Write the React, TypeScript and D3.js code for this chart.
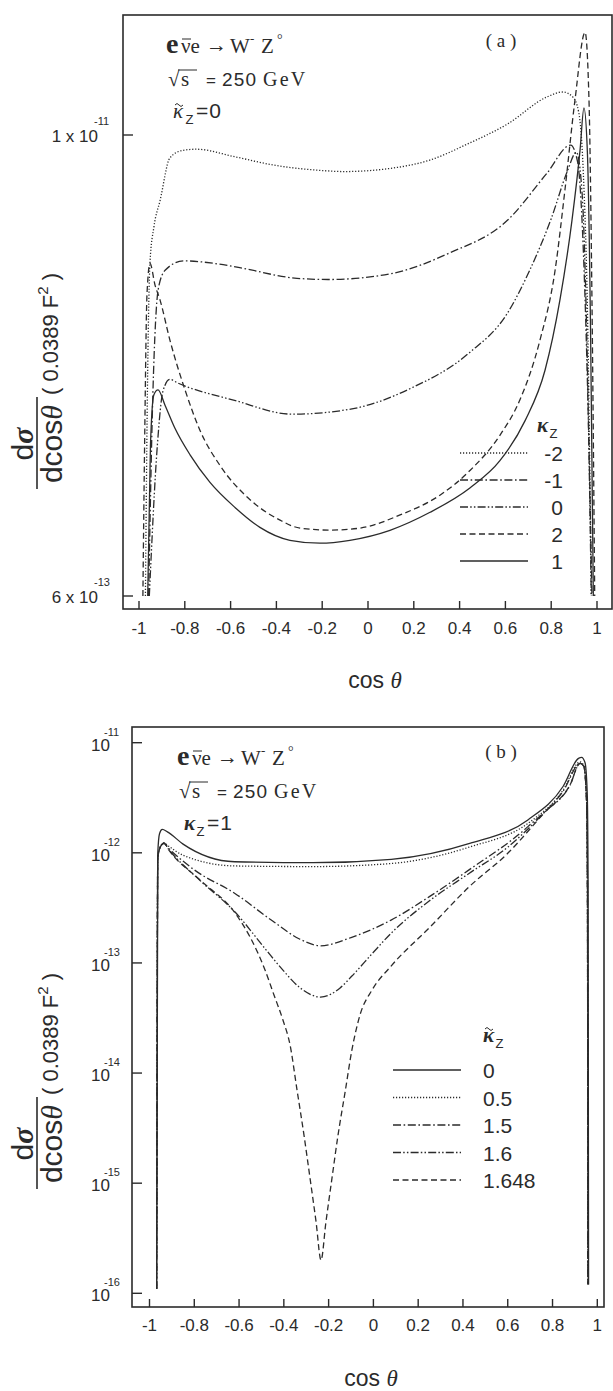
import React from "react";
import * as d3 from "d3";

type Pt = [number, number];

// ---- panel (a): kappa~_Z = 0, one curve per kappa_Z ----
const aKzMinus2: Pt[] = [
  [-0.972, 6.0e-13], [-0.962, 2.4e-12], [-0.952, 4.6e-12], [-0.935, 5.7e-12], [-0.908, 6.7e-12],
  [-0.865, 8.7e-12], [-0.81, 9.1e-12], [-0.75, 9.17e-12], [-0.583, 8.76e-12], [-0.41, 8.32e-12],
  [-0.2, 8.05e-12], [-0.105, 8.0e-12], [0.1, 8.16e-12], [0.27, 8.58e-12], [0.44, 9.5e-12],
  [0.61, 1.07e-11], [0.78, 1.26e-11], [0.85, 1.3e-11], [0.895, 1.26e-11], [0.92, 1.15e-11],
  [0.94, 8.0e-12], [0.96, 3.0e-12], [0.975, 6.0e-13],
];
const aKzMinus1: Pt[] = [
  [-0.958, 6.0e-13], [-0.94, 2.0e-12], [-0.916, 3.9e-12], [-0.886, 4.38e-12], [-0.806, 4.64e-12],
  [-0.675, 4.57e-12], [-0.56, 4.45e-12], [-0.31, 4.17e-12], [-0.17, 4.14e-12], [0.1, 4.29e-12],
  [0.35, 4.85e-12], [0.61, 5.95e-12], [0.78, 7.9e-12], [0.885, 9.4e-12], [0.915, 8.5e-12],
  [0.94, 5.0e-12], [0.96, 2.0e-12], [0.978, 6.0e-13],
];
const aKz0: Pt[] = [
  [-0.955, 6.0e-13], [-0.92, 1.5e-12], [-0.895, 2.1e-12], [-0.865, 2.25e-12], [-0.83, 2.2e-12],
  [-0.583, 1.98e-12], [-0.33, 1.82e-12], [-0.07, 1.88e-12], [0.186, 2.13e-12], [0.44, 2.64e-12],
  [0.61, 3.38e-12], [0.7, 4.3e-12], [0.8, 6.0e-12], [0.87, 8.0e-12], [0.91, 9.0e-12],
  [0.935, 7.0e-12], [0.955, 3.0e-12], [0.975, 6.0e-13],
];
const aKz2: Pt[] = [
  [-0.983, 6.0e-13], [-0.975, 1.6e-12], [-0.965, 3.8e-12], [-0.952, 4.57e-12], [-0.93, 4.0e-12],
  [-0.908, 3.65e-12], [-0.865, 2.86e-12], [-0.799, 2.11e-12], [-0.734, 1.65e-12], [-0.646, 1.33e-12],
  [-0.515, 1.08e-12], [-0.384, 9.53e-13], [-0.297, 9.08e-13], [-0.166, 8.97e-13], [-0.035, 9.08e-13],
  [0.14, 9.84e-13], [0.314, 1.11e-12], [0.445, 1.29e-12], [0.576, 1.6e-12], [0.664, 1.99e-12],
  [0.751, 2.86e-12], [0.817, 4.38e-12], [0.86, 7.15e-12], [0.904, 1.24e-11], [0.948, 1.87e-11],
  [0.965, 1.24e-11], [0.978, 3.65e-12], [0.99, 6.0e-13],
];
const aKz1: Pt[] = [
  [-0.962, 6.0e-13], [-0.95, 1.5e-12], [-0.935, 2.05e-12], [-0.917, 2.11e-12], [-0.886, 1.92e-12],
  [-0.843, 1.67e-12], [-0.777, 1.42e-12], [-0.69, 1.2e-12], [-0.581, 1.03e-12], [-0.472, 9.12e-13],
  [-0.341, 8.43e-13], [-0.21, 8.28e-13], [-0.079, 8.43e-13], [0.096, 8.96e-13], [0.271, 1.0e-12],
  [0.445, 1.16e-12], [0.576, 1.37e-12], [0.686, 1.75e-12], [0.773, 2.38e-12], [0.838, 3.65e-12],
  [0.891, 5.96e-12], [0.926, 9.12e-12], [0.943, 1.18e-11], [0.958, 9.0e-12], [0.972, 3.0e-12],
  [0.984, 6.0e-13],
];
const aLegendLabels = ["-2", "-1", "0", "2", "1"];
const aYTicks = [1e-11, 6e-13];
const aYTickMant = ["1 x 10", "6 x 10"];
const aYTickExp = ["-11", "-13"];

// ---- panel (b): kappa_Z = 1, one curve per kappa~_Z ----
const bKt0: Pt[] = [
  [-0.968, 1.1e-16], [-0.963, 1.0e-12], [-0.955, 1.5e-12], [-0.943, 1.63e-12], [-0.92, 1.55e-12],
  [-0.85, 1.2e-12], [-0.62, 8.3e-13], [-0.27, 8.13e-13], [0.08, 8.73e-13], [0.43, 1.22e-12],
  [0.69, 1.99e-12], [0.847, 4.0e-12], [0.916, 7.2e-12], [0.93, 7.36e-12], [0.945, 6.6e-12],
  [0.955, 3.5e-12], [0.959, 5.0e-13], [0.961, 1.2e-16],
];
const bKt05: Pt[] = [
  [-0.968, 1.1e-16], [-0.963, 9.0e-13], [-0.95, 1.15e-12], [-0.937, 1.23e-12], [-0.915, 1.15e-12],
  [-0.85, 9.5e-13], [-0.62, 7.6e-13], [-0.27, 7.5e-13], [0.08, 8.0e-13], [0.43, 1.13e-12],
  [0.69, 1.85e-12], [0.847, 3.7e-12], [0.923, 6.7e-12], [0.94, 6.2e-12], [0.952, 3.0e-12],
  [0.956, 5.0e-13], [0.958, 1.2e-16],
];
const bKt15: Pt[] = [
  [-0.968, 1.1e-16], [-0.963, 9.0e-13], [-0.95, 1.15e-12], [-0.937, 1.22e-12], [-0.915, 1.1e-12],
  [-0.8, 7.0e-13], [-0.62, 4.3e-13], [-0.45, 2.4e-13], [-0.33, 1.65e-13], [-0.236, 1.43e-13],
  [-0.1, 1.7e-13], [0.079, 2.45e-13], [0.25, 4.0e-13], [0.427, 7.0e-13], [0.69, 1.73e-12],
  [0.85, 3.7e-12], [0.923, 6.5e-12], [0.94, 6.1e-12], [0.952, 3.0e-12], [0.956, 5.0e-13],
  [0.958, 1.2e-16],
];
const bKt16: Pt[] = [
  [-0.968, 1.1e-16], [-0.963, 9.0e-13], [-0.95, 1.15e-12], [-0.935, 1.22e-12], [-0.915, 1.08e-12],
  [-0.774, 5.6e-13], [-0.618, 2.9e-13], [-0.484, 1.35e-13], [-0.404, 8.6e-14], [-0.33, 6.0e-14],
  [-0.236, 4.9e-14], [-0.15, 5.9e-14], [-0.096, 7.6e-14], [0.0, 1.25e-13], [0.079, 1.86e-13],
  [0.253, 3.7e-13], [0.427, 6.5e-13], [0.601, 1.13e-12], [0.766, 2.35e-12], [0.878, 4.1e-12],
  [0.923, 6.5e-12], [0.94, 6.1e-12], [0.952, 3.0e-12], [0.956, 5.0e-13], [0.958, 1.2e-16],
];
const bKt1648: Pt[] = [
  [-0.968, 1.1e-16], [-0.963, 9.0e-13], [-0.95, 1.15e-12], [-0.935, 1.23e-12], [-0.915, 1.07e-12],
  [-0.774, 5.66e-13], [-0.618, 2.84e-13], [-0.551, 1.72e-13], [-0.484, 8.62e-14], [-0.444, 5.11e-14],
  [-0.404, 3.03e-14], [-0.372, 1.79e-14], [-0.341, 7.0e-15], [-0.31, 2.73e-15], [-0.283, 1.11e-15],
  [-0.256, 4.44e-16], [-0.234, 2.0e-16], [-0.212, 4.44e-16], [-0.185, 1.11e-15], [-0.158, 2.73e-15],
  [-0.126, 6.8e-15], [-0.096, 1.62e-14], [-0.06, 3.36e-14], [-0.006, 5.68e-14], [0.079, 9.37e-14],
  [0.253, 2.12e-13], [0.427, 4.9e-13], [0.601, 9.95e-13], [0.766, 2.34e-12], [0.878, 4.13e-12],
  [0.923, 6.5e-12], [0.94, 6.1e-12], [0.952, 3.0e-12], [0.956, 5.0e-13], [0.958, 1.2e-16],
];
const bLegendLabels = ["0", "0.5", "1.5", "1.6", "1.648"];
const bYTicks = [1e-11, 1e-12, 1e-13, 1e-14, 1e-15, 1e-16];
const bYTickExp = ["-11", "-12", "-13", "-14", "-15", "-16"];

const xTicks = [-1, -0.8, -0.6, -0.4, -0.2, 0, 0.2, 0.4, 0.6, 0.8, 1];
const xTickLabels = ["-1", "-0.8", "-0.6", "-0.4", "-0.2", "0", "0.2", "0.4", "0.6", "0.8", "1"];

const INK = "#2b2b2b";
const SANS = "'Liberation Sans', Arial, sans-serif";
const SERIF = "'Liberation Serif', 'Times New Roman', serif";

const DOT = "1.2,1.8";
const DASHDOT = "8,2.6,1.6,2.6";
const DASHDOTDOT = "8,2.2,1.5,2.2,1.5,2.2";
const DASH = "6,3.5";

const aDashes = [DOT, DASHDOT, DASHDOTDOT, DASH, ""];
const aData = [aKzMinus2, aKzMinus1, aKz0, aKz2, aKz1];
const bDashes = ["", DOT, DASHDOT, DASHDOTDOT, DASH];
const bData = [bKt0, bKt05, bKt15, bKt16, bKt1648];

function YLabel({ cy }: { cy: number }) {
  // rotated frame: u runs upward from cy, v runs to the right
  return (
    <g transform={`translate(0,${cy}) rotate(-90)`} fill={INK} fontFamily={SANS}>
      <text x={43} y={33} fontSize={30} textAnchor="middle">
        d<tspan fontFamily={SERIF} fontStyle="italic" fontWeight="bold">σ</tspan>
      </text>
      <line x1={-2} x2={90} y1={37} y2={37} stroke={INK} strokeWidth={1.6} />
      <text x={43} y={62} fontSize={30} textAnchor="middle">
        dcos<tspan fontFamily={SERIF} fontStyle="italic">θ</tspan>
      </text>
      <text x={92} y={58} fontSize={22}>
        ( 0.0389  F<tspan fontSize={15} dy={-10}>2</tspan><tspan dy={10}> )</tspan>
      </text>
    </g>
  );
}

// kappa with optional tilde (drawn as a path) and subscript Z, then trailing text
function Kappa({ x, y, tilde, bold, tail, size = 21 }: {
  x: number; y: number; tilde?: boolean; bold?: boolean; tail?: string; size?: number;
}) {
  return (
    <g fill={INK}>
      <text x={x} y={y} fontSize={size} fontFamily={SERIF} fontStyle="italic" fontWeight={bold ? "bold" : "normal"}>
        κ
      </text>
      {tilde && (
        <path d={`M${x + 2},${y - 13} q2,-3 4,0 t4,0`} fill="none" stroke={INK} strokeWidth={1} />
      )}
      <text x={x + size * 0.6} y={y + 6} fontSize={size * 0.62} fontFamily={SANS}>Z</text>
      {tail && (
        <text x={x + size * 1.1} y={y} fontSize={size} fontFamily={SANS} letterSpacing={1}>{tail}</text>
      )}
    </g>
  );
}

function Header({ x, y, kappaTilde, kappaTail }: { x: number; y: number; kappaTilde: boolean; kappaTail: string }) {
  return (
    <g fill={INK}>
      <text x={x} y={y} fontSize={28} fontWeight="bold" fontFamily={SERIF}>e</text>
      <text x={x + 15} y={y} fontSize={21} fontFamily={SERIF}>νe</text>
      <line x1={x + 16} x2={x + 25} y1={y - 14} y2={y - 14} stroke={INK} strokeWidth={1} />
      <text x={x + 40} y={y - 1} fontSize={21} fontFamily={SERIF}>→</text>
      <text x={x + 64} y={y} fontSize={21} fontFamily={SERIF}>W</text>
      <text x={x + 84} y={y - 10} fontSize={13} fontFamily={SERIF}>-</text>
      <text x={x + 95} y={y} fontSize={21} fontFamily={SERIF}>Z</text>
      <text x={x + 111} y={y - 9} fontSize={14} fontFamily={SERIF}>°</text>
      <text x={x + 2} y={y + 33} fontSize={21} fontFamily={SERIF}>√</text>
      <line x1={x + 12} x2={x + 31} y1={y + 17} y2={y + 17} stroke={INK} strokeWidth={1} />
      <text x={x + 15} y={y + 33} fontSize={21} fontFamily={SERIF}>s</text>
      <text x={x + 40} y={y + 33} fontSize={17} fontFamily={SANS}>=</text>
      <text x={x + 56} y={y + 33} fontSize={19} fontFamily={SANS} letterSpacing={1.2}>250</text>
      <text x={x + 97} y={y + 33} fontSize={20} fontFamily={SERIF} letterSpacing={2.2}>GeV</text>
      <Kappa x={x + 7} y={y + 65} tilde={kappaTilde} bold={!kappaTilde} tail={kappaTail} />
    </g>
  );
}

function PanelA() {
  const x = d3.scaleLinear().domain([-1, 1]).range([139, 597]);
  const y = d3.scaleLog().domain([6e-13, 1e-11]).range([596, 135]);
  const line = d3.line<Pt>().x((d) => x(d[0])).y((d) => y(d[1])).curve(d3.curveMonotoneX);
  const L = 123, T = 15, R = 612, B = 609;
  return (
    <g>
      <rect x={L} y={T} width={R - L} height={B - T} fill="none" stroke={INK} strokeWidth={1.6} />
      {aYTicks.map((t, i) => (
        <g key={i}>
          <line x1={L} x2={L + 10} y1={y(t)} y2={y(t)} stroke={INK} strokeWidth={1.4} />
          <text x={98} y={y(t) + 7} fontSize={17} textAnchor="end" fill={INK} fontFamily={SANS}>
            {aYTickMant[i]}
          </text>
          <text x={94} y={y(t) - 10} fontSize={11} fill={INK} fontFamily={SANS}>
            {aYTickExp[i]}
          </text>
        </g>
      ))}
      {xTicks.map((t, i) => (
        <g key={i}>
          <line x1={x(t)} x2={x(t)} y1={B} y2={B - 8} stroke={INK} strokeWidth={1.4} />
          <text x={x(t)} y={634} fontSize={17} textAnchor="middle" fill={INK} fontFamily={SANS}>
            {xTickLabels[i]}
          </text>
        </g>
      ))}
      <g fill="none" stroke={INK} strokeWidth={1.3}>
        {aData.map((d, i) => (
          <path key={i} d={line(d) || ""} strokeDasharray={aDashes[i] || undefined} />
        ))}
      </g>
      <Kappa x={537} y={432} bold size={21} />
      {aLegendLabels.map((lab, i) => {
        const ly = 453 + i * 27;
        return (
          <g key={i}>
            <line x1={460} x2={528} y1={ly} y2={ly} stroke={INK} strokeWidth={1.3}
              strokeDasharray={aDashes[i] || undefined} />
            <text x={563} y={ly + 8} fontSize={21} textAnchor="end" fill={INK} fontFamily={SANS}>
              {lab}
            </text>
          </g>
        );
      })}
      <Header x={166} y={53} kappaTilde kappaTail="=0" />
      <text x={501} y={47} fontSize={19} textAnchor="middle" fill={INK} fontFamily={SERIF}>
        ( a )
      </text>
      <text x={375} y={688} fontSize={23} textAnchor="middle" fill={INK} fontFamily={SANS}>
        cos <tspan fontFamily={SERIF} fontStyle="italic">θ</tspan>
      </text>
      <YLabel cy={487} />
    </g>
  );
}

function PanelB() {
  const x = d3.scaleLinear().domain([-1, 1]).range([149.5, 597.3]);
  const y = d3.scaleLog().domain([1e-16, 1e-11]).range([1293.3, 742.7]);
  const line = d3.line<Pt>().x((d) => x(d[0])).y((d) => y(d[1])).curve(d3.curveMonotoneX);
  const L = 132, T = 727, R = 604, B = 1307;
  return (
    <g>
      <rect x={L} y={T} width={R - L} height={B - T} fill="none" stroke={INK} strokeWidth={1.6} />
      {bYTicks.map((t, i) => (
        <g key={i}>
          <line x1={L} x2={L + 10} y1={y(t)} y2={y(t)} stroke={INK} strokeWidth={1.4} />
          <text x={110} y={y(t) + 8} fontSize={17} textAnchor="end" fill={INK} fontFamily={SANS}>
            10
          </text>
          <text x={104} y={y(t) - 7} fontSize={11} fill={INK} fontFamily={SANS}>
            {bYTickExp[i]}
          </text>
        </g>
      ))}
      {xTicks.map((t, i) => (
        <g key={i}>
          <line x1={x(t)} x2={x(t)} y1={B} y2={B - 8} stroke={INK} strokeWidth={1.4} />
          <text x={x(t)} y={1331} fontSize={17} textAnchor="middle" fill={INK} fontFamily={SANS}>
            {xTickLabels[i]}
          </text>
        </g>
      ))}
      <g fill="none" stroke={INK} strokeWidth={1.3}>
        {bData.map((d, i) => (
          <path key={i} d={line(d) || ""} strokeDasharray={bDashes[i] || undefined} />
        ))}
      </g>
      <Kappa x={483} y={1042} tilde bold size={21} />
      {bLegendLabels.map((lab, i) => {
        const ly = 1070 + i * 27.5;
        return (
          <g key={i}>
            <line x1={393} x2={461} y1={ly} y2={ly} stroke={INK} strokeWidth={1.3}
              strokeDasharray={bDashes[i] || undefined} />
            <text x={483} y={ly + 8} fontSize={21} fill={INK} fontFamily={SANS}>
              {lab}
            </text>
          </g>
        );
      })}
      <Header x={177} y={765} kappaTilde={false} kappaTail="=1" />
      <text x={501} y={758} fontSize={19} textAnchor="middle" fill={INK} fontFamily={SERIF}>
        ( b )
      </text>
      <text x={371} y={1386} fontSize={23} textAnchor="middle" fill={INK} fontFamily={SANS}>
        cos <tspan fontFamily={SERIF} fontStyle="italic">θ</tspan>
      </text>
      <YLabel cy={1187} />
    </g>
  );
}

export default function App() {
  return (
    <svg width={613} height={1391} style={{ position: "absolute", left: 0, top: 0, background: "#fff" }}>
      <rect width={613} height={1391} fill="#fff" />
      <PanelA />
      <PanelB />
    </svg>
  );
}
